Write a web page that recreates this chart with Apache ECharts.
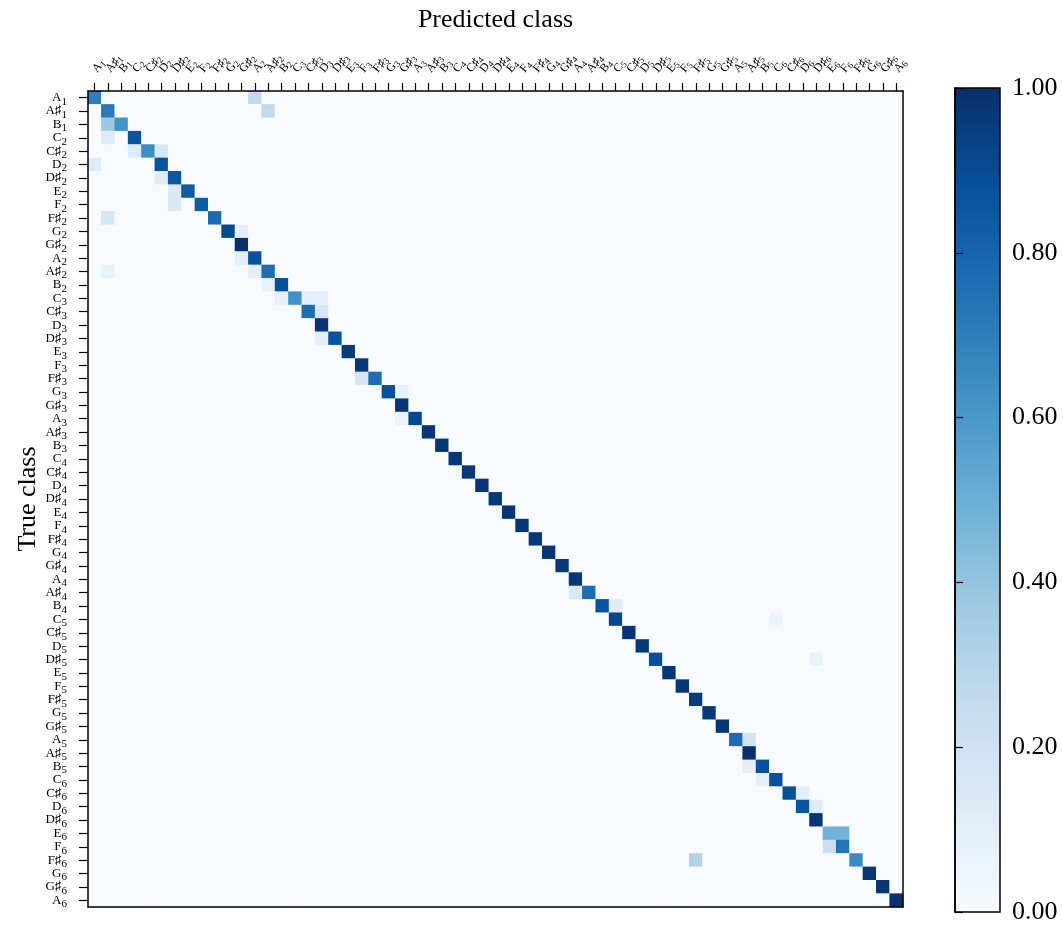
<!DOCTYPE html>
<html>
<head>
<meta charset="utf-8">
<script src="https://cdn.jsdelivr.net/npm/echarts@6/dist/echarts.min.js"></script>
<style>
  html, body { margin: 0; padding: 0; background: #fff; }
  #chart { width: 1063px; height: 925px; }
</style>
</head>
<body>
<div id="chart"></div>
<script>
// classes, from A1 up to A6
var notes = [
  "A1", "A♯1", "B1",
  "C2", "C♯2", "D2", "D♯2", "E2", "F2", "F♯2", "G2", "G♯2", "A2", "A♯2", "B2",
  "C3", "C♯3", "D3", "D♯3", "E3", "F3", "F♯3", "G3", "G♯3", "A3", "A♯3", "B3",
  "C4", "C♯4", "D4", "D♯4", "E4", "F4", "F♯4", "G4", "G♯4", "A4", "A♯4", "B4",
  "C5", "C♯5", "D5", "D♯5", "E5", "F5", "F♯5", "G5", "G♯5", "A5", "A♯5", "B5",
  "C6", "C♯6", "D6", "D♯6", "E6", "F6", "F♯6", "G6", "G♯6", "A6"
];

// value on the diagonal (true == predicted), row by row
var diagonal = [
  0.70, 0.72, 0.62,
  0.86, 0.64, 0.86, 0.85, 0.84, 0.83, 0.78, 0.90, 1.00, 0.87, 0.76, 0.88,
  0.63, 0.77, 0.98, 0.87, 0.96, 0.97, 0.76, 0.88, 0.98, 0.91, 0.98, 0.98,
  0.98, 0.97, 0.98, 0.97, 0.98, 0.98, 0.97, 0.98, 0.97, 0.98, 0.77, 0.87,
  0.92, 0.98, 0.97, 0.88, 0.98, 0.98, 0.96, 0.97, 0.98, 0.77, 1.00, 0.88,
  0.87, 0.88, 0.86, 0.98, 0.48, 0.74, 0.65, 0.98, 0.98, 0.99
];

// [true class, predicted class, value] for the off-diagonal cells
var offDiagonal = [
  [0, 12, 0.26], [1, 13, 0.26], [2, 1, 0.38],
  [3, 1, 0.13], [4, 3, 0.13], [4, 5, 0.15],
  [5, 0, 0.12], [6, 5, 0.12], [7, 6, 0.14], [8, 6, 0.14],
  [9, 1, 0.17], [10, 11, 0.09], [12, 11, 0.10],
  [13, 1, 0.08], [13, 12, 0.09], [14, 13, 0.08],
  [15, 14, 0.08], [15, 16, 0.09], [15, 17, 0.09],
  [16, 17, 0.17], [18, 17, 0.10], [21, 20, 0.17],
  [22, 23, 0.08], [24, 23, 0.06],
  [37, 36, 0.16], [38, 39, 0.12], [39, 51, 0.06], [42, 54, 0.07],
  [48, 49, 0.19], [50, 49, 0.10], [51, 50, 0.10],
  [52, 53, 0.10], [53, 54, 0.12],
  [55, 56, 0.48], [56, 55, 0.22], [57, 45, 0.31]
];

// matplotlib "Blues"
var blues = ["#f7fbff", "#deebf7", "#c6dbef", "#9ecae1", "#6baed6",
             "#4292c6", "#2171b5", "#08519c", "#08306b"];

var serif = "'Liberation Serif', 'DejaVu Serif', serif";

var chart = echarts.init(document.getElementById("chart"));

// full matrix, zeros everywhere else
var cells = [];
for (var i = 0; i < notes.length; i++) {
  var row = [];
  for (var j = 0; j < notes.length; j++) row.push(0);
  row[i] = diagonal[i];
  cells.push(row);
}
offDiagonal.forEach(function (d) {
  cells[d[0]][d[1]] = d[2];
});
var data = [];
for (var i = 0; i < notes.length; i++) {
  for (var j = 0; j < notes.length; j++) {
    data.push([j, i, cells[i][j]]);
  }
}

function noteLabel(s) {
  var m = s.match(/^([A-G]♯?)(\d)$/);
  return "{n|" + m[1] + "}{s|" + m[2] + "}";
}

var stops = blues.map(function (c, k) {
  return { offset: k / (blues.length - 1), color: c };
});

var option = {
  backgroundColor: "#fff",
  animation: false,
  grid: [
    { left: 88, top: 91, width: 815, height: 816, show: false, containLabel: false, outerBoundsMode: "none" },
    {
      left: 955, top: 88, width: 45, height: 824, show: true,
      containLabel: false, outerBoundsMode: "none",
      backgroundColor: new echarts.graphic.LinearGradient(0, 1, 0, 0, stops),
      borderColor: "#000", borderWidth: 1.5
    }
  ],
  visualMap: {
    show: false,
    min: 0,
    max: 1,
    seriesIndex: 0,
    inRange: { color: blues }
  },
  xAxis: [
    {
      type: "category",
      gridIndex: 0,
      data: notes,
      position: "top",
      z: 10,
      name: "Predicted class",
      nameLocation: "middle",
      nameGap: 58,
      nameMoveOverlap: false,
      nameTextStyle: { fontFamily: serif, fontSize: 26, color: "#000" },
      axisLine: { show: true, lineStyle: { color: "#000", width: 1.5 } },
      axisTick: { show: true, interval: 0, alignWithLabel: true, length: 8, lineStyle: { color: "#000", width: 1.2 } },
      axisLabel: {
        interval: 0,
        rotate: -50,
        margin: 20,
        hideOverlap: false,
        color: "#000",
        formatter: noteLabel,
        rich: {
          n: { fontFamily: serif, fontSize: 12, color: "#000" },
          s: { fontFamily: serif, fontSize: 9, color: "#000", padding: [5, 0, 0, 0] }
        }
      },
      splitLine: { show: false }
    },
    {
      type: "category",
      gridIndex: 0,
      data: notes,
      position: "bottom",
      z: 10,
      axisLine: { show: true, lineStyle: { color: "#000", width: 1.5 } },
      axisTick: { show: false },
      axisLabel: { show: false },
      splitLine: { show: false }
    },
    {
      type: "value",
      gridIndex: 1,
      show: false,
      min: 0,
      max: 1
    }
  ],
  yAxis: [
    {
      type: "category",
      gridIndex: 0,
      data: notes,
      inverse: true,
      position: "left",
      z: 10,
      name: "True class",
      nameLocation: "middle",
      nameGap: 47,
      nameMoveOverlap: false,
      nameRotate: 90,
      nameTextStyle: { fontFamily: serif, fontSize: 26, color: "#000" },
      axisLine: { show: true, lineStyle: { color: "#000", width: 1.5 } },
      axisTick: { show: true, interval: 0, alignWithLabel: true, length: 9, lineStyle: { color: "#000", width: 1.2 } },
      axisLabel: {
        interval: 0,
        margin: 21,
        hideOverlap: false,
        color: "#000",
        formatter: noteLabel,
        rich: {
          n: { fontFamily: serif, fontSize: 13, color: "#000" },
          s: { fontFamily: serif, fontSize: 11, color: "#000", padding: [8, 0, 0, 0] }
        }
      },
      splitLine: { show: false }
    },
    {
      type: "category",
      gridIndex: 0,
      data: notes,
      inverse: true,
      position: "right",
      z: 10,
      axisLine: { show: true, lineStyle: { color: "#000", width: 1.5 } },
      axisTick: { show: false },
      axisLabel: { show: false },
      splitLine: { show: false }
    },
    {
      type: "value",
      gridIndex: 1,
      position: "right",
      min: 0,
      max: 1,
      interval: 0.2,
      axisLine: { show: true, lineStyle: { color: "#000", width: 1.5 } },
      axisTick: { show: true, inside: false, length: 8, lineStyle: { color: "#000", width: 1.2 } },
      axisLabel: {
        margin: 12,
        fontFamily: serif,
        fontSize: 26,
        color: "#000",
        formatter: function (v) { return v.toFixed(2); }
      },
      splitLine: { show: false }
    }
  ],
  series: [
    {
      type: "heatmap",
      xAxisIndex: 0,
      yAxisIndex: 0,
      data: data,
      progressive: 0,
      emphasis: { disabled: true }
    }
  ]
};

chart.setOption(option);
window.addEventListener("resize", function () {
  chart.resize();
});
</script>
</body>
</html>
